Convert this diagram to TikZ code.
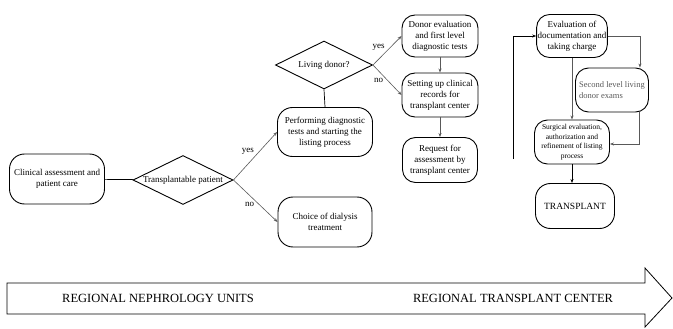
\documentclass[tikz,border=0pt]{standalone}
\usepackage{fontspec}
\setmainfont{Liberation Serif}
\usetikzlibrary{shapes.geometric,arrows.meta}

\begin{document}
\begin{tikzpicture}[x=1pt,y=-1pt,
		process/.style={draw, line width=0.9pt, rounded corners=15pt, align=center, inner sep=1pt, font=\fontsize{9}{11}\selectfont},
		decision/.style={draw, line width=0.9pt, diamond, inner sep=0pt},
		lbl/.style={font=\fontsize{9}{11}\selectfont, inner sep=1pt, text=black},
		every label/.style={font=\fontsize{9}{11}\selectfont},
		arrow/.style={-{Stealth[length=4pt,width=3pt]}, gray!70!black, line width=0.6pt},
		link/.style={gray!70!black, line width=0.6pt}
		]
		\useasboundingbox (0,0) rectangle (673,329);
		
		% Nodes
		\node[process, minimum width=95pt, minimum height=50pt] (clinical) at (57,179) {Clinical assessment and\\patient care};
		\node[decision, minimum width=100pt, minimum height=49pt, label=center:{Transplantable patient}] (trans) at (183,180) {};
		\node[process, minimum width=95pt, minimum height=49pt] (perform) at (325,132) {Performing diagnostic\\tests and starting the\\listing process};
		\node[process, minimum width=94pt, minimum height=50pt] (dialysis) at (325,222) {Choice of dialysis\\treatment};
		\node[decision, minimum width=97pt, minimum height=48pt, label=center:{Living donor?}] (living) at (324,65) {};
		\node[process, minimum width=76pt, minimum height=42pt, rounded corners=13pt] (donor) at (440,36) {Donor evaluation\\and first level\\diagnostic tests};
		\node[process, minimum width=76pt, minimum height=44pt, rounded corners=13pt] (records) at (440,95) {Setting up clinical\\records for\\transplant center};
		\node[process, minimum width=75pt, minimum height=45pt, rounded corners=13pt] (request) at (440,160) {Request for\\assessment by\\transplant center};
		\node[process, minimum width=69pt, minimum height=43pt, rounded corners=13pt] (evaluation) at (572,36) {Evaluation of\\documentation and\\taking charge};
		\node[process, minimum width=73pt, minimum height=44pt, rounded corners=13pt, align=left, text=gray!70!black, font=\fontsize{8.5}{11}\selectfont] (second) at (612,90) {Second level living\\donor exams};
		\node[process, minimum width=75pt, minimum height=44pt, rounded corners=13pt, inner sep=0pt, font=\fontsize{7.5}{9.5}\selectfont] (surgical) at (572,142) {Surgical evaluation,\\authorization and\\refinement of listing\\process};
		\node[process, minimum width=79pt, minimum height=45pt, font=\fontsize{9.5}{11}\selectfont] (transplant) at (575,206) {TRANSPLANT};
		\coordinate (loop) at (513,159);
		
		% Arrows
		\draw[line width=0.7pt] (clinical) -- (trans);
		\draw[arrow] (trans.east) -- node[lbl, above left] {yes} (perform.west);
		\draw[arrow] (trans.east) -- node[lbl, below left] {no} (dialysis.west);
		\draw[line width=0.7pt] (perform.north) -- (living.south);
		\draw[arrow] (living.east) -- node[lbl, above left, pos=0.45] {yes} (donor.west);
		\draw[arrow] (living.east) -- node[lbl, below left, pos=0.4] {no} (records.west);
		\draw[arrow] (donor) -- (records);
		\draw[arrow] (records) -- (request);
		\draw[arrow, black] (loop) |- (evaluation.west);
		\draw[arrow] (evaluation.east) -| ([xshift=-9pt]second.north east);
		\draw[arrow] (evaluation.south) -- (surgical.north);
		\draw[arrow] ([xshift=-10pt]second.south east) |- ([yshift=-2pt]surgical.east);
		\draw[arrow, black] (surgical.south) -- (surgical.south |- transplant.north);
		
		% Labels
		\draw[line width=0.8pt] (7,283) -- (645,283) -- (645,268) -- (672,298) -- (645,327) -- (645,314) -- (7,314) -- cycle;
		\node[font=\fontsize{12.5}{14}\selectfont] (nephro) at (158,298) {REGIONAL NEPHROLOGY UNITS};
		\node[font=\fontsize{12.5}{14}\selectfont] (center) at (513,298) {REGIONAL TRANSPLANT CENTER};
		
	\end{tikzpicture}
\end{document}
